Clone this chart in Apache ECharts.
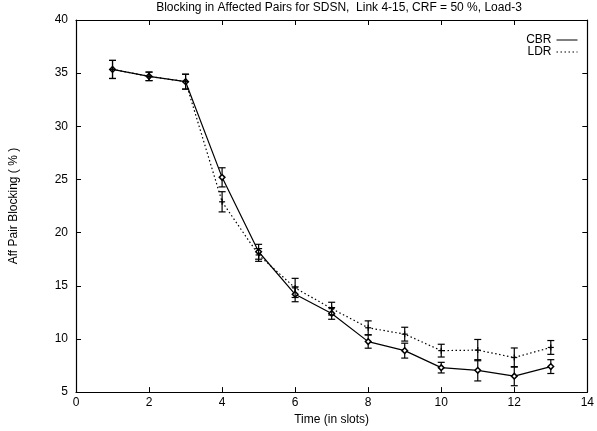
<!DOCTYPE html>
<html><head><meta charset="utf-8">
<script src="https://cdn.jsdelivr.net/npm/echarts@6/dist/echarts.min.js"></script>
<style>html,body{margin:0;padding:0;background:#fff}#c{width:597px;height:431px}</style>
</head><body><div id="c"></div>
<script>
var times = [1,2,3,4,5,6,7,8,9,10,11,12,13];
var cbr = [35.35,34.7,34.2,25.2,18.2,14.2,12.4,9.75,8.9,7.3,7.05,6.5,7.4];
var cbrErr = [0.85,0.4,0.7,0.9,0.7,0.7,0.55,0.62,0.7,0.5,1.0,0.9,0.65];
var ldr = [35.35,34.7,34.2,22.9,17.9,14.8,12.85,11.05,10.45,8.9,8.95,8.25,9.2];
var ldrErr = [0.85,0.4,0.7,0.95,0.6,0.9,0.6,0.65,0.65,0.6,1.0,0.9,0.65];
var xTicks = [0,2,4,6,8,10,12,14];
var yTicks = [5,10,15,20,25,30,35,40];

var chart = echarts.init(document.getElementById('c'), null, {renderer:'canvas'});
var font = 'Liberation Sans, Arial, sans-serif';

function errSeries(name, vals, errs, marker) {
  var data = times.map(function(t,i){ return [t, vals[i], vals[i]-errs[i], vals[i]+errs[i]]; });
  return {
    type: 'custom', name: name + ' err', data: data, z: 5, silent: true,
    renderItem: function(params, api) {
      var x = api.value(0);
      var p = api.coord([x, api.value(1)]);
      var lo = api.coord([x, api.value(2)]);
      var hi = api.coord([x, api.value(3)]);
      var cw = 3.5;
      var st = {stroke:'#000', lineWidth:1.2, fill:null};
      var ch = [
        {type:'line', shape:{x1:lo[0],y1:lo[1],x2:hi[0],y2:hi[1]}, style:st},
        {type:'line', shape:{x1:lo[0]-cw,y1:lo[1],x2:lo[0]+cw,y2:lo[1]}, style:st},
        {type:'line', shape:{x1:hi[0]-cw,y1:hi[1],x2:hi[0]+cw,y2:hi[1]}, style:st}
      ];
      if (marker === 'diamond') {
        var r = 2.8;
        ch.push({type:'polygon', shape:{points:[[p[0],p[1]-r],[p[0]+r,p[1]],[p[0],p[1]+r],[p[0]-r,p[1]]]},
          style:{stroke:'#000', lineWidth:1.5, fill:'#fff'}});
      } else {
        var r2 = 3;
        ch.push({type:'line', shape:{x1:p[0]-r2,y1:p[1],x2:p[0]+r2,y2:p[1]}, style:st});
        ch.push({type:'line', shape:{x1:p[0],y1:p[1]-r2,x2:p[0],y2:p[1]+r2}, style:st});
      }
      return {type:'group', children: ch};
    }
  };
}

var axisLabelStyle = {color:'#000', fontSize:12, fontFamily:font};
var option = {
  animation: false,
  backgroundColor: '#fff',
  title: {
    text: 'Blocking in Affected Pairs for SDSN,  Link 4-15, CRF = 50 %, Load-3',
    left: 334, top: -3, textAlign: 'center',
    textStyle: {fontSize: 12, fontWeight: 'normal', color:'#000', fontFamily: font}
  },
  legend: {
    data: ['CBR','LDR'], right: 14, top: 29, orient: 'vertical', align: 'right',
    itemWidth: 21, itemHeight: 8, itemGap: 0,
    itemStyle: {opacity: 0},
    lineStyle: {width: 1},
    textStyle: {fontSize: 12, lineHeight: 10, color:'#000', fontFamily: font},
    selectedMode: false
  },
  grid: {left: 76, right: 7, top: 20, bottom: 37},
  xAxis: [{
    type: 'value', min: 0, max: 14, interval: 2,
    name: 'Time (in slots)', nameLocation: 'middle', nameGap: 17,
    nameTextStyle: {color:'#000', fontSize: 12, fontFamily: font},
    axisLine: {show: true, onZero:false, lineStyle: {color:'#000', width: 1.2}},
    axisTick: {show: true, inside: true, length: 5, lineStyle:{color:'#000'}},
    axisLabel: Object.assign({margin: 5}, axisLabelStyle),
    splitLine: {show: false}
  },{
    type: 'value', min: 0, max: 14, interval: 2, position: 'top',
    axisLine: {show: true, onZero:false, lineStyle: {color:'#000', width: 1.2}},
    axisTick: {show: true, inside: true, length: 5, lineStyle:{color:'#000'}},
    axisLabel: {show: false}, splitLine: {show:false}
  }],
  yAxis: [{
    type: 'value', min: 5, max: 40, interval: 5,
    name: 'Aff Pair Blocking ( % )', nameLocation: 'middle', nameGap: 56,
    nameTextStyle: {color:'#000', fontSize: 12, fontFamily: font},
    axisLine: {show: true, onZero:false, lineStyle: {color:'#000', width: 1.2}},
    axisTick: {show: true, inside: true, length: 5, lineStyle:{color:'#000'}},
    axisLabel: Object.assign({margin: 8}, axisLabelStyle),
    splitLine: {show: false}
  },{
    type: 'value', min: 5, max: 40, interval: 5, position: 'right',
    axisLine: {show: true, onZero:false, lineStyle: {color:'#000', width: 1.2}},
    axisTick: {show: true, inside: true, length: 5, lineStyle:{color:'#000'}},
    axisLabel: {show: false}, splitLine: {show:false}
  }],
  series: [
    {name:'CBR', type:'line', symbol:'none', data: times.map(function(t,i){return [t,cbr[i]];}),
     lineStyle:{color:'#000', width:1.2, type:'solid'}, itemStyle:{color:'#000'}, z: 3},
    {name:'LDR', type:'line', symbol:'none', data: times.map(function(t,i){return [t,ldr[i]];}),
     lineStyle:{color:'#000', width:1.2, type:[1.5,2.5]}, itemStyle:{color:'#000'}, z: 3},
    errSeries('CBR', cbr, cbrErr, 'diamond'),
    errSeries('LDR', ldr, ldrErr, 'plus')
  ]
};
chart.setOption(option);
</script></body></html>
